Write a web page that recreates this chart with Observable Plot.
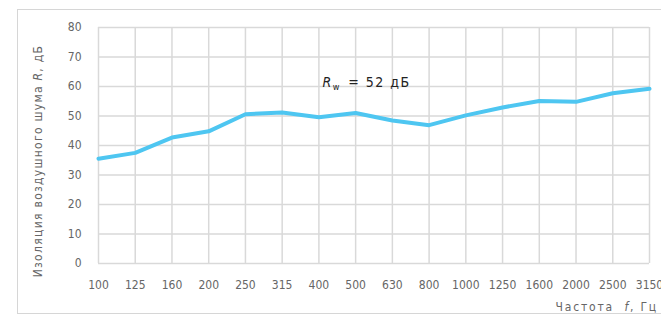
<!DOCTYPE html>
<html>
<head>
<meta charset="utf-8">
<script src="https://cdn.jsdelivr.net/npm/d3@7"></script>
<script src="https://cdn.jsdelivr.net/npm/@observablehq/plot@0.6"></script>
<style>
  html, body { margin: 0; padding: 0; background: #fff; }
  #wrap { position: relative; width: 661px; height: 320px; overflow: hidden; }
  #box { position: absolute; left: 17px; top: 9px; width: 700px; height: 305px; border: 1.5px solid #d6d6d6; box-sizing: border-box; }
  #chart { position: absolute; left: 0; top: 0; }
</style>
</head>
<body>
<div id="wrap"><div id="box"></div><div id="chart"></div></div>
<script>
const frequencies = ["100","125","160","200","250","315","400","500","630","800","1000","1250","1600","2000","2500","3150"];
const insulation = [35.5, 37.5, 42.7, 44.8, 50.6, 51.2, 49.6, 51.0, 48.5, 46.9, 50.2, 52.9, 55.1, 54.8, 57.7, 59.2];
const yTicks = [0, 10, 20, 30, 40, 50, 60, 70, 80];
const annotationValue = "52";
const annotationFreq = "400";
const annotationLevel = 61.5;

const data = frequencies.map((f, i) => ({f, r: insulation[i]}));
const font = "'DejaVu Sans Condensed', 'DejaVu Sans', sans-serif";

const plot = Plot.plot({
  width: 661,
  height: 320,
  marginLeft: 98,
  marginRight: 12,
  marginTop: 27,
  marginBottom: 57,
  style: {fontFamily: font, fontSize: "12px", color: "#666", background: "transparent"},
  x: {type: "point", domain: frequencies, padding: 0, round: false, label: null},
  y: {domain: [0, 80], ticks: yTicks, label: null},
  marks: [
    Plot.gridX(frequencies, {stroke: "#d9d9d9", strokeOpacity: 1, strokeWidth: 1.5}),
    Plot.gridY(yTicks, {stroke: "#d9d9d9", strokeOpacity: 1, strokeWidth: 1.5}),
    Plot.axisX({ticks: frequencies, tickSize: 0, tickPadding: 17, fill: "#666"}),
    Plot.axisY({ticks: yTicks, tickSize: 0, tickPadding: 17, fill: "#666"}),
    Plot.line(data, {x: "f", y: "r", stroke: "#4ec6f1", strokeWidth: 4, strokeLinejoin: "round", strokeLinecap: "round"})
  ]
});
document.getElementById("chart").appendChild(plot);

const svg = d3.select(plot);
const xs = plot.scale("x"), ys = plot.scale("y");

// annotation R_w = 52 dB
const ann = svg.append("text")
  .attr("x", xs.apply(annotationFreq) + 4)
  .attr("y", ys.apply(annotationLevel) + 5)
  .attr("text-anchor", "start")
  .attr("font-family", font).attr("font-size", 14).attr("fill", "#222")
  .attr("letter-spacing", "1.5px")
  .attr("xml:space", "preserve");
ann.append("tspan").attr("font-style", "italic").text("R");
ann.append("tspan").attr("font-size", 9).attr("dy", 3).text("w");
ann.append("tspan").attr("dy", -3).attr("dx", 2).text(" = " + annotationValue + " дБ");

// y-axis label
const yl = svg.append("text")
  .attr("transform", "translate(42,161) rotate(-90)")
  .attr("text-anchor", "middle")
  .attr("font-family", font).attr("font-size", 12).attr("fill", "#666")
  .attr("letter-spacing", "1.3px");
yl.append("tspan").text("Изоляция воздушного шума ");
yl.append("tspan").attr("font-style", "italic").text("R");
yl.append("tspan").text(", дБ");

// x-axis label
const xl = svg.append("text")
  .attr("x", 658).attr("y", 311)
  .attr("text-anchor", "end")
  .attr("font-family", font).attr("font-size", 12).attr("fill", "#666")
  .attr("letter-spacing", "1.8px")
  .attr("xml:space", "preserve");
xl.append("tspan").text("Частота  ");
xl.append("tspan").attr("font-style", "italic").text("f");
xl.append("tspan").text(", Гц");
</script>
</body>
</html>
